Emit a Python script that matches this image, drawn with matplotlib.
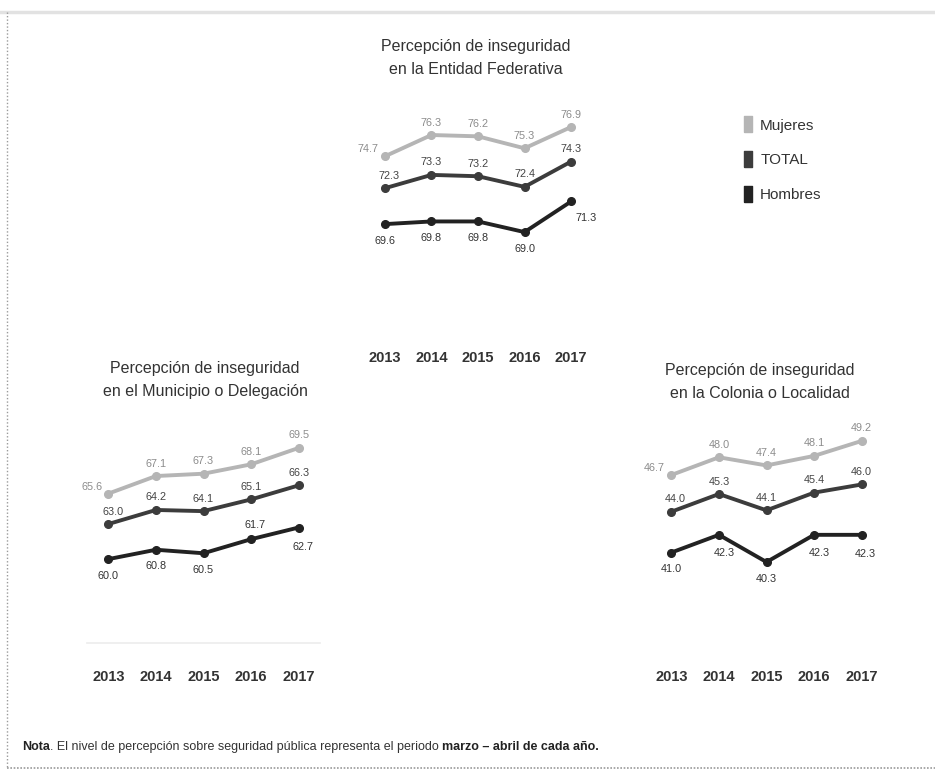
import matplotlib
matplotlib.use("Agg")
import matplotlib.pyplot as plt
from matplotlib.lines import Line2D

plt.rcParams['font.family'] = ['Liberation Sans', 'DejaVu Sans']

# Datos
anios = [2013, 2014, 2015, 2016, 2017]
series = ["Mujeres", "TOTAL", "Hombres"]

entidad_mujeres = [74.7, 76.3, 76.2, 75.3, 76.9]
entidad_total = [72.3, 73.3, 73.2, 72.4, 74.3]
entidad_hombres = [69.6, 69.8, 69.8, 69.0, 71.3]

municipio_mujeres = [65.6, 67.1, 67.3, 68.1, 69.5]
municipio_total = [63.0, 64.2, 64.1, 65.1, 66.3]
municipio_hombres = [60.0, 60.8, 60.5, 61.7, 62.7]

colonia_mujeres = [46.7, 48.0, 47.4, 48.1, 49.2]
colonia_total = [44.0, 45.3, 44.1, 45.4, 46.0]
colonia_hombres = [41.0, 42.3, 40.3, 42.3, 42.3]

titulos = ["Percepción de inseguridad\nen la Entidad Federativa",
           "Percepción de inseguridad\nen el Municipio o Delegación",
           "Percepción de inseguridad\nen la Colonia o Localidad"]

colores = {"Mujeres": "#b5b5b5", "TOTAL": "#3c3c3c", "Hombres": "#222222"}
color_etq = {"Mujeres": "#8c8c8c", "TOTAL": "#444444", "Hombres": "#333333"}

W, H = 935, 775
fig = plt.figure(figsize=(W / 100, H / 100), dpi=100)


def caja(izq, arriba, der, abajo):
    # convierte pixeles a coordenadas de figura
    return [izq / W, 1 - abajo / H, (der - izq) / W, (abajo - arriba) / H]


def panel(rect, ylim, datos, pad, eje_visible, extra):
    ax = fig.add_axes(caja(*rect))
    for nombre, vals in zip(series, datos):
        ax.plot(anios, vals, color=colores[nombre], lw=2.8, marker='o', ms=5.5,
                solid_joinstyle='round')
        for i, (x, v) in enumerate(zip(anios, vals)):
            if nombre == "Hombres":
                dx, dy = 0, -12
            else:
                dx, dy = 0, 9
            if i == 0 and nombre == "Mujeres":
                dx, dy = -12, 5
            if i == 0 and nombre == "TOTAL":
                dx, dy = 3, 9
            dx, dy = extra.get((nombre, i), (dx, dy))
            ax.annotate(f"{v:.1f}", (x, v), xytext=(dx, dy), textcoords='offset points',
                        ha='center', va='center', fontsize=7.8,
                        color=color_etq[nombre])
    ax.set_xlim(2012.55, 2017.45)
    ax.set_ylim(*ylim)
    ax.set_yticks([])
    ax.set_xticks(anios)
    ax.tick_params(axis='x', length=0, pad=pad, labelsize=10.5, labelcolor='#333333')
    for t in ax.get_xticklabels():
        t.set_fontweight('bold')
    for s in ['top', 'left', 'right']:
        ax.spines[s].set_visible(False)
    if eje_visible:
        ax.spines['bottom'].set_color('#ececec')
        ax.spines['bottom'].set_linewidth(1.2)
    else:
        ax.spines['bottom'].set_visible(False)
    ax.patch.set_alpha(0)
    return ax


panel((364, 110, 592, 345), (60.51, 78.18),
      [entidad_mujeres, entidad_total, entidad_hombres], 4.5, False,
      {("Hombres", 4): (11, -12)})
panel((87, 420, 320, 643), (52.83, 71.89),
      [municipio_mujeres, municipio_total, municipio_hombres], 19.5, True,
      {("Hombres", 3): (3, 10), ("Hombres", 4): (3, -14)})
panel((650, 420, 883, 643), (34.35, 50.74),
      [colonia_mujeres, colonia_total, colonia_hombres], 19.5, False,
      {("Hombres", 1): (4, -13), ("Hombres", 3): (4, -13), ("Hombres", 4): (3, -14)})

# Títulos
for (cx, cy), t in zip([(476, 58), (205, 380), (760, 382)], titulos):
    fig.text(cx / W, 1 - cy / H, t, ha='center', va='center', fontsize=11.5,
             color='#333333', linespacing=1.7)

# Leyenda
marca = [(-0.55, -1), (0.55, -1), (0.55, 1), (-0.55, 1), (-0.55, -1)]
handles = [Line2D([], [], ls='none', marker=marca, ms=11, color=colores[n]) for n in series]
fig.legend(handles, series, loc='upper left', bbox_to_anchor=(725 / W, 1 - 105 / H),
           frameon=False, fontsize=11, labelspacing=1.35, handletextpad=0.2,
           handlelength=1.2, labelcolor='#333333')

# Nota al pie
nota = fig.text(22 / W, 1 - 747 / H, "Nota", fontsize=9, fontweight='bold',
                color='#222222', va='center')
ax_n = fig.axes[0]
parte2 = ax_n.annotate(
    ". El nivel de percepción sobre seguridad pública representa el periodo ",
    xy=(1, 0.5), xycoords=nota, va='center', fontsize=9, color='#333333')
ax_n.annotate("marzo – abril de cada año.", xy=(1, 0.5), xycoords=parte2,
              va='center', fontsize=9, fontweight='bold', color='#222222')

# Marco
fig.add_artist(Line2D([0, 1], [1 - 12 / H] * 2, color='#e2e2e2', lw=2.5,
                      transform=fig.transFigure))
fig.add_artist(Line2D([7 / W] * 2, [1 - 12 / H, 1 - 768 / H], color='#9a9a9a', lw=1,
                      ls=(0, (1, 1.5)), transform=fig.transFigure))
fig.add_artist(Line2D([7 / W, 1], [1 - 768 / H] * 2, color='#9a9a9a', lw=1.2,
                      ls=(0, (1, 1)), transform=fig.transFigure))

fig.savefig("out.png", dpi=100, facecolor='white')
